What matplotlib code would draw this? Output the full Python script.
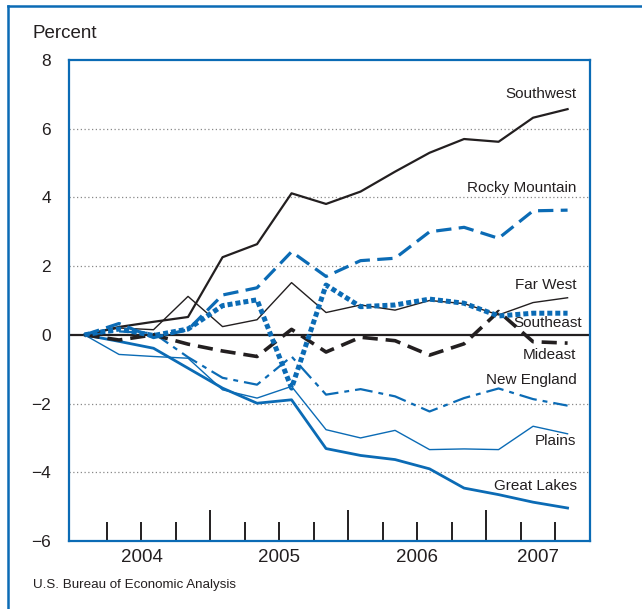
import numpy as np
import matplotlib
matplotlib.use('Agg')
import matplotlib.pyplot as plt
from matplotlib.lines import Line2D

plt.rcParams['font.family'] = ['Liberation Sans', 'DejaVu Sans']

# quarterly data, 2004Q1 .. 2007Q3 (percent)
quarters = np.arange(15)
southwest = [0, 0.23, 0.38, 0.52, 2.26, 2.64, 4.12, 3.81, 4.17, 4.75, 5.30, 5.70, 5.62, 6.32, 6.57]
rocky_mountain = [0, 0.33, -0.08, 0.15, 1.16, 1.37, 2.42, 1.70, 2.16, 2.23, 3.00, 3.13, 2.81, 3.61, 3.63]
far_west = [0, 0.2, 0.15, 1.12, 0.24, 0.44, 1.52, 0.65, 0.87, 0.72, 1.0, 0.91, 0.58, 0.94, 1.08]
southeast = [0, 0.17, -0.02, 0.17, 0.85, 1.02, -1.55, 1.45, 0.82, 0.87, 1.04, 0.92, 0.55, 0.63, 0.63]
mideast = [0, -0.15, 0.0, -0.27, -0.47, -0.63, 0.16, -0.5, -0.07, -0.17, -0.59, -0.26, 0.68, -0.2, -0.24]
new_england = [0, 0.1, 0.05, -0.65, -1.25, -1.45, -0.63, -1.74, -1.58, -1.79, -2.23, -1.84, -1.56, -1.87, -2.06]
plains = [0, -0.57, -0.63, -0.68, -1.6, -1.84, -1.5, -2.76, -3.0, -2.78, -3.34, -3.32, -3.34, -2.66, -2.88]
great_lakes = [0, -0.19, -0.39, -0.97, -1.55, -1.99, -1.89, -3.31, -3.51, -3.63, -3.9, -4.46, -4.65, -4.87, -5.04]

years = ['2004', '2005', '2006', '2007']
year_pos = [2, 6, 10, 13.5]

blue = '#0b6bb5'
black = '#231f20'

fig = plt.figure(figsize=(6.42, 6.09), dpi=100)
ax = fig.add_axes([69 / 642, 1 - 541 / 609, (590 - 69) / 642, (541 - 60) / 609])

x = quarters + 0.35

ax.axhline(0, color=black, lw=1.6, zorder=1)
for g in [6, 4, 2, -2, -4]:
    ax.axhline(g, color='#888888', lw=0.9, ls=(0, (1, 2)), zorder=0)

ax.plot(x, great_lakes, color=blue, lw=2.0, zorder=3)
ax.plot(x, plains, color=blue, lw=1.0, zorder=3)
ax.plot(x, new_england, color=blue, lw=1.6, dashes=(8, 2.7, 2.2, 2.7), zorder=3)
ax.plot(x, mideast, color=black, lw=2.6, dashes=(4.2, 2.2), zorder=3)
ax.plot(x, far_west, color=black, lw=1.0, zorder=3)
ax.plot(x, southwest, color=black, lw=1.6, zorder=3)
ax.plot(x, rocky_mountain, color=blue, lw=2.3, dashes=(4.8, 2.3), zorder=3)
ax.plot(x, southeast, color=blue, lw=3.6, dashes=(1.0, 0.6), dash_capstyle='butt', zorder=4)

labels = [('Southwest', 14.61, 7.0), ('Rocky Mountain', 14.61, 4.27), ('Far West', 14.61, 1.45),
          ('Southeast', 14.78, 0.35), ('Mideast', 14.61, -0.58), ('New England', 14.61, -1.3),
          ('Plains', 14.61, -3.1), ('Great Lakes', 14.61, -4.4)]
for name, lx, ly in labels:
    ax.text(lx, ly, name, ha='right', va='center', fontsize=11,
            color=black, zorder=5)

ax.set_xlim(-0.1, 15)
ax.set_ylim(-6, 8)
ax.set_yticks(range(-6, 9, 2))
ax.set_yticklabels(['\u22126', '\u22124', '\u22122', '0', '2', '4', '6', '8'])
ax.tick_params(axis='y', length=0, pad=13, labelsize=12.5, labelcolor=black)

ax.set_xticks([4, 8, 12])
ax.set_xticks([1, 2, 3, 5, 6, 7, 9, 10, 11, 13, 14], minor=True)
ax.tick_params(axis='x', which='major', direction='in', length=22, width=1.4, color=black, labelbottom=False)
ax.tick_params(axis='x', which='minor', direction='in', length=13.5, width=1.4, color=black, labelbottom=False)
for yr, p in zip(years, year_pos):
    ax.text(p, -6.22, yr, ha='center', va='top', fontsize=13.5, color=black,
            transform=ax.transData, clip_on=False)

for s in ax.spines.values():
    s.set_color(blue)
    s.set_linewidth(1.6)

fig.text(33 / 642, 1 - 33 / 609, 'Percent', ha='left', va='center', fontsize=13.5, color=black)
fig.text(33 / 642, 1 - 585 / 609, 'U.S. Bureau of Economic Analysis', ha='left', va='center',
         fontsize=9.6, color=black)

# frame on left and top of the figure
fig.add_artist(Line2D([8 / 642, 8 / 642], [0, 1 - 6 / 609], color=blue, lw=1.8))
fig.add_artist(Line2D([8 / 642, 1], [1 - 6 / 609, 1 - 6 / 609], color=blue, lw=1.8))

fig.savefig('out.png', dpi=100)
